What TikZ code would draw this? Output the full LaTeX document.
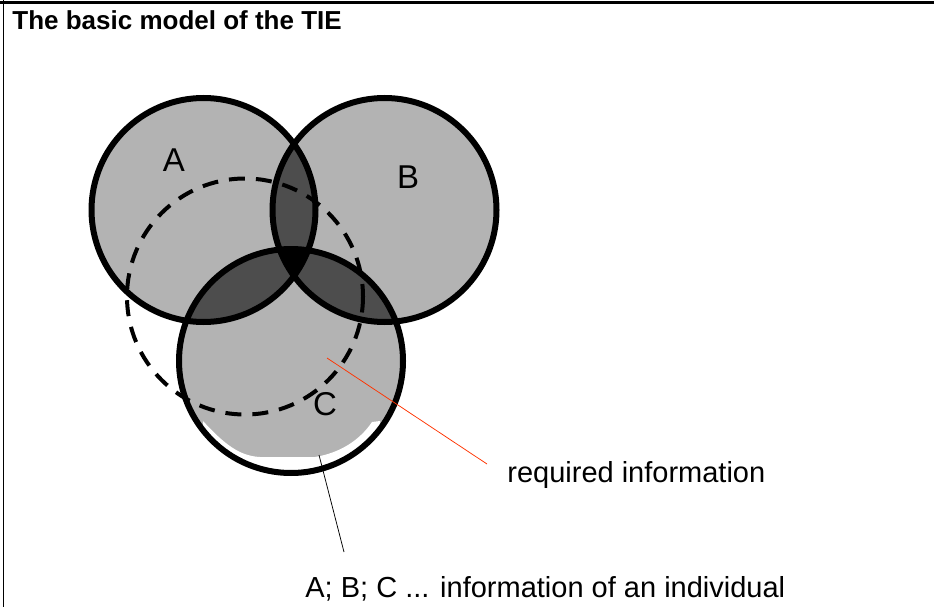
\documentclass[tikz,border=0pt]{standalone}
\usepackage{fontspec}
\setmainfont{Liberation Sans}
\usetikzlibrary{positioning}
\definecolor{setgrey}{RGB}{179,179,179}
\definecolor{cutgrey}{RGB}{77,77,77}
\definecolor{reqred}{RGB}{255,51,0}
\tikzset{every picture/.style={line width=0.75pt}}
\tikzset{
  setline/.style={line width=6pt},
  indline/.style={line width=4pt, dash pattern=on 16pt off 11pt},
  setlabel/.style={inner sep=0pt, font=\fontsize{33}{38}\selectfont},
  notelabel/.style={inner sep=0pt, anchor=base west, font=\fontsize{29}{34}\selectfont}
}

\begin{document}
\begin{tikzpicture}[x=1pt,y=1pt,yscale=-1,xscale=1]
    \useasboundingbox (0,0) rectangle (934,607);
    % frame
    \draw [line width=3pt] (0,2.5) -- (934,2.5) ;
    \draw [line width=1.5pt] (3.5,0) -- (3.5,607) ;
    % sets
    \fill [setgrey] (203.5,210) circle (112) ;
    \fill [setgrey] (384.5,210) circle (112) ;
    \fill [setgrey] (291,361) circle (112) ;
    \begin{scope}
      \clip (203.5,210) circle (112) ;
      \fill [cutgrey] (384.5,210) circle (112) ;
      \fill [cutgrey] (291,361) circle (112) ;
    \end{scope}
    \begin{scope}
      \clip (384.5,210) circle (112) ;
      \fill [cutgrey] (291,361) circle (112) ;
      \clip (291,361) circle (112) ;
      \fill [black] (203.5,210) circle (112) ;
    \end{scope}
    \begin{scope}
      \clip (291,361) circle (112) ;
      \fill [white] (203,421) .. controls (225,445) and (240,456) .. (260,457) -- (315,457) .. controls (340,453) and (360,440) .. (372,422) -- (380,421) -- (380,480) -- (203,480) -- cycle ;
    \end{scope}
    % individual
    \draw [indline] (245,296.5) circle (118) ;
    \draw [setline] (203.5,210) circle (112) ;
    \draw [setline] (384.5,210) circle (112) ;
    \draw [setline] (291,361) circle (112) ;
    % labels
    \node [setlabel] (labA) at (174,160.5) {A};
    \node [setlabel] (labB) at (408,177) {B};
    \node [setlabel] (labC) at (325,404.5) {C};
    \node [inner sep=0pt, anchor=base west, font=\fontsize{26}{30}\selectfont\bfseries] (title) at (12,30) {The basic model of the TIE};
    \node [notelabel] (reqtxt) at (507,482) {required information};
    \node [notelabel] (indtxt) at (305,597) {A; B; C ... information of an individual};
    % pointers
    \coordinate (req) at (327,358) ;
    \coordinate (reqend) at (487,464) ;
    \coordinate (edgeC) at (319,455) ;
    \coordinate (indend) at (344,552) ;
    \draw [reqred] (req) -- (reqend) ;
    \draw (edgeC) -- (indend) ;
\end{tikzpicture}
\end{document}
